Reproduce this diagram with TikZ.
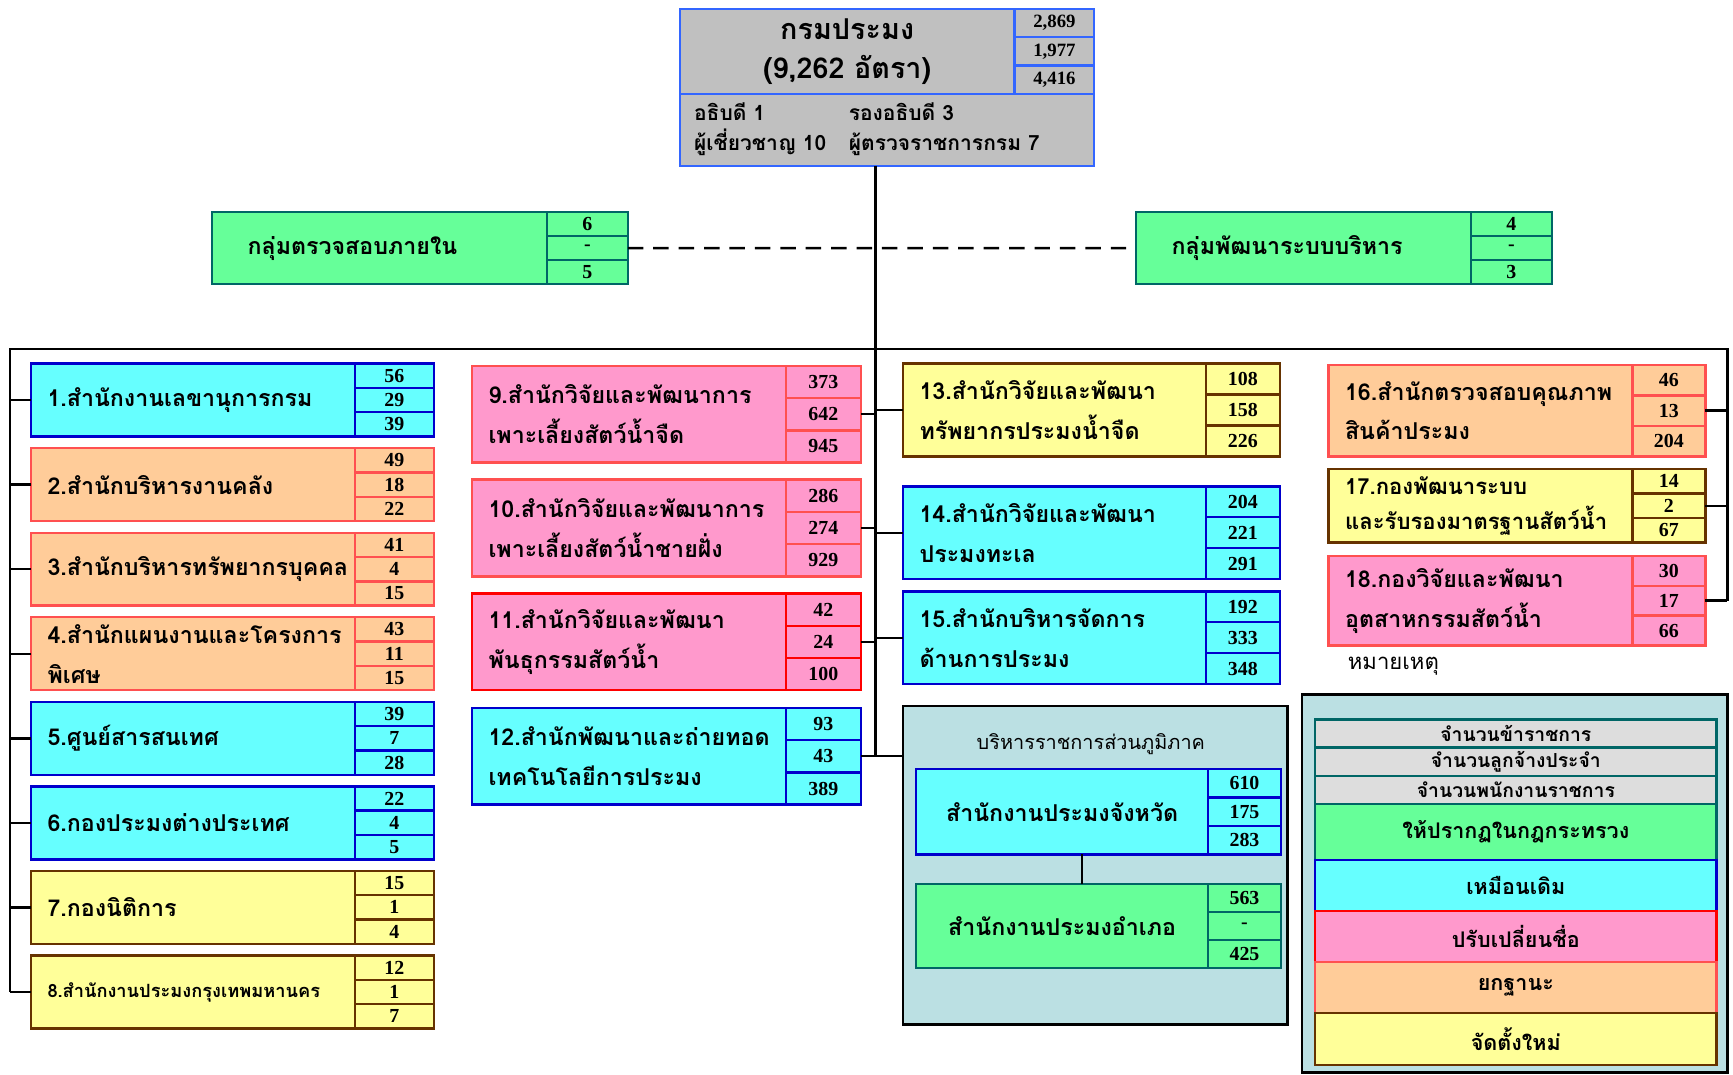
\documentclass[tikz,border=0pt]{standalone}
\usepackage{fontspec}
\setmainfont{Liberation Serif}
\newfontfamily\thaifont[Script=Thai]{Loma}
\usetikzlibrary{positioning}
\definecolor{cyanfill}{RGB}{102,255,255}
\definecolor{blueline}{RGB}{0,0,204}
\definecolor{orangefill}{RGB}{255,204,153}
\definecolor{redline}{RGB}{255,80,80}
\definecolor{pinkfill}{RGB}{255,153,204}
\definecolor{yellowfill}{RGB}{255,255,153}
\definecolor{brownline}{RGB}{102,51,0}
\definecolor{greenfill}{RGB}{102,255,153}
\definecolor{tealline}{RGB}{0,102,102}
\definecolor{grayfill}{RGB}{192,192,192}
\definecolor{topline}{RGB}{51,102,255}
\definecolor{regionfill}{RGB}{187,224,227}
\definecolor{keygray}{RGB}{221,221,221}

\begin{document}
\begin{tikzpicture}
		[x=1pt, y=-1pt,
		unit/.style={draw, line width=2.2pt, anchor=north west, outer sep=0pt, inner xsep=15pt, inner ysep=0pt, align=left, font=\thaifont\bfseries\fontsize{21}{36}\selectfont},
		cell/.style={draw, line width=2.2pt, outer sep=0pt, inner sep=0pt, font=\bfseries\fontsize{18}{18}\selectfont},
		lunit/.style={unit, text width=263pt, minimum height=66pt},
		lcell/.style={cell, minimum width=71.5pt, minimum height=22pt},
		munit/.style={unit, text width=254pt, minimum height=87.5pt},
		mcell/.style={cell, minimum width=68pt, minimum height=29.17pt},
		cunit/.style={unit, text width=244pt, minimum height=84pt},
		ccell/.style={cell, minimum width=67pt, minimum height=28pt},
		runit/.style={unit, text width=245pt},
		rcell/.style={cell, minimum width=66pt},
		key/.style={draw, line width=2.2pt, outer sep=0pt, minimum width=363pt, font=\thaifont\bfseries\fontsize{19.5}{19.5}\selectfont},
		blu/.style={fill=cyanfill, draw=blueline},
		org/.style={fill=orangefill, draw=redline},
		pnk/.style={fill=pinkfill, draw=redline},
		ylw/.style={fill=yellowfill, draw=brownline},
		grn/.style={fill=greenfill, draw=tealline},
		link/.style={line width=2.2pt, black}
		]

		\useasboundingbox (0,0) rectangle (1568,972);
		\coordinate (busL) at (9,316);
		\coordinate (busC) at (792,316);
		\coordinate (busR) at (1563,316);

		% department head
		\node [unit, fill=grayfill, draw=topline, align=center, text width=273pt, minimum height=77pt, font=\thaifont\bfseries\fontsize{26}{35}\selectfont] (DOF) at (615,8) {กรมประมง\\(9,262 อัตรา)};
			\node [cell, fill=grayfill, draw=topline, minimum width=72pt, minimum height=25.67pt, anchor=north west, font=\bfseries\fontsize{17}{17}\selectfont] (DOF_1) at (DOF.north east) {2,869};
			\node [cell, fill=grayfill, draw=topline, minimum width=72pt, minimum height=25.67pt, below=0pt of DOF_1, font=\bfseries\fontsize{17}{17}\selectfont] (DOF_2) {1,977};
			\node [cell, fill=grayfill, draw=topline, minimum width=72pt, minimum height=25.67pt, below=0pt of DOF_2, font=\bfseries\fontsize{17}{17}\selectfont] (DOF_3) {4,416};
		\node [unit, fill=grayfill, draw=topline, text width=349pt, inner xsep=13pt, minimum height=65pt, font=\thaifont\bfseries\fontsize{19}{25}\selectfont] (DOF0) at (DOF.south west)
			{\begin{tabular}{@{}p{140pt}@{}l@{}}อธิบดี 1 & รองอธิบดี 3\\ผู้เชี่ยวชาญ 10 & ผู้ตรวจราชการกรม 7\end{tabular}};

		% staff groups
		\node [unit, grn, text width=239pt, inner xsep=32pt, minimum height=65pt] (G1) at (192,192) {กลุ่มตรวจสอบภายใน};
			\node [cell, grn, minimum width=73pt, minimum height=21.67pt, anchor=north west] (G1_1) at (G1.north east) {6};
			\node [cell, grn, minimum width=73pt, minimum height=21.67pt, below=0pt of G1_1] (G1_2) {-};
			\node [cell, grn, minimum width=73pt, minimum height=21.67pt, below=0pt of G1_2] (G1_3) {5};
		\node [unit, grn, text width=239pt, inner xsep=32pt, minimum height=65pt] (G2) at (1028,192) {กลุ่มพัฒนาระบบบริหาร};
			\node [cell, grn, minimum width=73pt, minimum height=21.67pt, anchor=north west] (G2_1) at (G2.north east) {4};
			\node [cell, grn, minimum width=73pt, minimum height=21.67pt, below=0pt of G2_1] (G2_2) {-};
			\node [cell, grn, minimum width=73pt, minimum height=21.67pt, below=0pt of G2_2] (G2_3) {3};

		% left column
		\node [lunit, blu] (U1) at (28,329) {1.สำนักงานเลขานุการกรม} edge [link] (U1 -| busL);
			\node [lcell, blu, anchor=north west] (U1_1) at (U1.north east) {56};
			\node [lcell, blu, below=0pt of U1_1] (U1_2) {29};
			\node [lcell, blu, below=0pt of U1_2] (U1_3) {39};
		\node [lunit, org, below=10.5pt of U1] (U2) {2.สำนักบริหารงานคลัง} edge [link] (U2 -| busL);
			\node [lcell, org, anchor=north west] (U2_1) at (U2.north east) {49};
			\node [lcell, org, below=0pt of U2_1] (U2_2) {18};
			\node [lcell, org, below=0pt of U2_2] (U2_3) {22};
		\node [lunit, org, below=10.5pt of U2] (U3) {3.สำนักบริหารทรัพยากรบุคคล} edge [link] (U3 -| busL);
			\node [lcell, org, anchor=north west] (U3_1) at (U3.north east) {41};
			\node [lcell, org, below=0pt of U3_1] (U3_2) {4};
			\node [lcell, org, below=0pt of U3_2] (U3_3) {15};
		\node [lunit, org, below=10.5pt of U3] (U4) {4.สำนักแผนงานและโครงการ\\พิเศษ} edge [link] (U4 -| busL);
			\node [lcell, org, anchor=north west] (U4_1) at (U4.north east) {43};
			\node [lcell, org, below=0pt of U4_1] (U4_2) {11};
			\node [lcell, org, below=0pt of U4_2] (U4_3) {15};
		\node [lunit, blu, below=10.5pt of U4] (U5) {5.ศูนย์สารสนเทศ} edge [link] (U5 -| busL);
			\node [lcell, blu, anchor=north west] (U5_1) at (U5.north east) {39};
			\node [lcell, blu, below=0pt of U5_1] (U5_2) {7};
			\node [lcell, blu, below=0pt of U5_2] (U5_3) {28};
		\node [lunit, blu, below=10.5pt of U5] (U6) {6.กองประมงต่างประเทศ} edge [link] (U6 -| busL);
			\node [lcell, blu, anchor=north west] (U6_1) at (U6.north east) {22};
			\node [lcell, blu, below=0pt of U6_1] (U6_2) {4};
			\node [lcell, blu, below=0pt of U6_2] (U6_3) {5};
		\node [lunit, ylw, below=10.5pt of U6] (U7) {7.กองนิติการ} edge [link] (U7 -| busL);
			\node [lcell, ylw, anchor=north west] (U7_1) at (U7.north east) {15};
			\node [lcell, ylw, below=0pt of U7_1] (U7_2) {1};
			\node [lcell, ylw, below=0pt of U7_2] (U7_3) {4};
		\node [lunit, ylw, below=10.5pt of U7, font=\thaifont\bfseries\fontsize{16.5}{20}\selectfont] (U8) {8.สำนักงานประมงกรุงเทพมหานคร} edge [link] (U8 -| busL);
			\node [lcell, ylw, anchor=north west] (U8_1) at (U8.north east) {12};
			\node [lcell, ylw, below=0pt of U8_1] (U8_2) {1};
			\node [lcell, ylw, below=0pt of U8_2] (U8_3) {7};

		% middle column
		\node [munit, pnk] (U9) at (427,331) {9.สำนักวิจัยและพัฒนาการ\\เพาะเลี้ยงสัตว์น้ำจืด};
			\node [mcell, pnk, anchor=north west] (U9_1) at (U9.north east) {373};
			\node [mcell, pnk, below=0pt of U9_1] (U9_2) {642} edge [link] (U9_2 -| busC);
			\node [mcell, pnk, below=0pt of U9_2] (U9_3) {945};
		\node [munit, pnk, below=15.5pt of U9] (U10) {10.สำนักวิจัยและพัฒนาการ\\เพาะเลี้ยงสัตว์น้ำชายฝั่ง};
			\node [mcell, pnk, anchor=north west] (U10_1) at (U10.north east) {286};
			\node [mcell, pnk, below=0pt of U10_1] (U10_2) {274} edge [link] (U10_2 -| busC);
			\node [mcell, pnk, below=0pt of U10_2] (U10_3) {929};
		\node [munit, pnk, draw=red, below=15.5pt of U10] (U11) {11.สำนักวิจัยและพัฒนา\\พันธุกรรมสัตว์น้ำ};
			\node [mcell, pnk, draw=red, anchor=north west] (U11_1) at (U11.north east) {42};
			\node [mcell, pnk, draw=red, below=0pt of U11_1] (U11_2) {24} edge [link] (U11_2 -| busC);
			\node [mcell, pnk, draw=red, below=0pt of U11_2] (U11_3) {100};
		\node [munit, blu, below=16pt of U11] (U12) {12.สำนักพัฒนาและถ่ายทอด\\เทคโนโลยีการประมง};
			\node [mcell, blu, anchor=north west] (U12_1) at (U12.north east) {93};
			\node [mcell, blu, below=0pt of U12_1] (U12_2) {43};
			\node [mcell, blu, below=0pt of U12_2] (U12_3) {389};

		% third column
		\node [cunit, ylw] (U13) at (817,329) {13.สำนักวิจัยและพัฒนา\\ทรัพยากรประมงน้ำจืด} edge [link] (U13 -| busC);
			\node [ccell, ylw, anchor=north west] (U13_1) at (U13.north east) {108};
			\node [ccell, ylw, below=0pt of U13_1] (U13_2) {158};
			\node [ccell, ylw, below=0pt of U13_2] (U13_3) {226};
		\node [cunit, blu, below=27pt of U13] (U14) {14.สำนักวิจัยและพัฒนา\\ประมงทะเล} edge [link] (U14 -| busC);
			\node [ccell, blu, anchor=north west] (U14_1) at (U14.north east) {204};
			\node [ccell, blu, below=0pt of U14_1] (U14_2) {221};
			\node [ccell, blu, below=0pt of U14_2] (U14_3) {291};
		\node [cunit, blu, below=11pt of U14] (U15) {15.สำนักบริหารจัดการ\\ด้านการประมง} edge [link] (U15 -| busC);
			\node [ccell, blu, anchor=north west] (U15_1) at (U15.north east) {192};
			\node [ccell, blu, below=0pt of U15_1] (U15_2) {333};
			\node [ccell, blu, below=0pt of U15_2] (U15_3) {348};

		% regional offices
		\node [draw, line width=2.2pt, fill=regionfill, anchor=north west, outer sep=0pt, minimum width=348pt, minimum height=288pt] (R) at (817,639) {};
		\node [font=\thaifont\fontsize{18}{18}\selectfont] (RT) at (987,673) {บริหารราชการส่วนภูมิภาค};
		\node [unit, blu, align=center, text width=234pt, minimum height=77pt] (P1) at (829,696) {สำนักงานประมงจังหวัด};
			\node [cell, blu, minimum width=66pt, minimum height=25.67pt, anchor=north west] (P1_1) at (P1.north east) {610};
			\node [cell, blu, minimum width=66pt, minimum height=25.67pt, below=0pt of P1_1] (P1_2) {175};
			\node [cell, blu, minimum width=66pt, minimum height=25.67pt, below=0pt of P1_2] (P1_3) {283};
		\node [unit, grn, align=center, text width=234pt, minimum height=76pt] (P2) at (829,800) {สำนักงานประมงอำเภอ};
			\node [cell, grn, minimum width=66pt, minimum height=25.33pt, anchor=north west] (P2_1) at (P2.north east) {563};
			\node [cell, grn, minimum width=66pt, minimum height=25.33pt, below=0pt of P2_1] (P2_2) {-};
			\node [cell, grn, minimum width=66pt, minimum height=25.33pt, below=0pt of P2_2] (P2_3) {425};
		\draw [link] ([xshift=18pt]P1.south) -- ([xshift=18pt]P2.north);

		% right column
		\node [runit, org, minimum height=83pt] (U16) at (1202,330) {16.สำนักตรวจสอบคุณภาพ\\สินค้าประมง};
			\node [rcell, org, minimum height=27.67pt, anchor=north west] (U16_1) at (U16.north east) {46};
			\node [rcell, org, minimum height=27.67pt, below=0pt of U16_1] (U16_2) {13} edge [link] (U16_2 -| busR);
			\node [rcell, org, minimum height=27.67pt, below=0pt of U16_2] (U16_3) {204};
		\node [runit, ylw, minimum height=66.5pt, font=\thaifont\bfseries\fontsize{20}{32}\selectfont, below=11.5pt of U16] (U17) {17.กองพัฒนาระบบ\\และรับรองมาตรฐานสัตว์น้ำ};
			\node [rcell, ylw, minimum height=22.17pt, anchor=north west] (U17_1) at (U17.north east) {14};
			\node [rcell, ylw, minimum height=22.17pt, below=0pt of U17_1] (U17_2) {2} edge [link] (U17_2 -| busR);
			\node [rcell, ylw, minimum height=22.17pt, below=0pt of U17_2] (U17_3) {67};
		\node [runit, pnk, minimum height=81pt, below=12pt of U17] (U18) {18.กองวิจัยและพัฒนา\\อุตสาหกรรมสัตว์น้ำ};
			\node [rcell, pnk, minimum height=27pt, anchor=north west] (U18_1) at (U18.north east) {30};
			\node [rcell, pnk, minimum height=27pt, below=0pt of U18_1] (U18_2) {17} edge [link] (U18_2 -| busR);
			\node [rcell, pnk, minimum height=27pt, below=0pt of U18_2] (U18_3) {66};

		% connectors
		\draw [link] (busL |- U8) -- (busL) -- (busR) -- (busR |- U18_2);
		\draw [link] (DOF0.south -| busC) -- (busC |- U12_2);
		\draw [link] (U12_2.east) -- (U12_2.east -| R.west);
		\draw [link, dash pattern=on 14pt off 9pt] (G1_2.east) -- (G2.west);

		% legend
		\node [font=\thaifont\fontsize{20}{20}\selectfont, anchor=west] (N) at (1216,603) {หมายเหตุ};
		\node [draw, line width=2.6pt, fill=regionfill, anchor=north west, outer sep=0pt, minimum width=385pt, minimum height=342pt] (K) at (1178,628) {};
		\node [key, fill=keygray, draw=tealline, minimum height=25.5pt, anchor=north west, font=\thaifont\bfseries\fontsize{17.5}{17.5}\selectfont] (K1) at (1190,651) {จำนวนข้าราชการ};
		\node [key, fill=keygray, draw=tealline, minimum height=25.5pt, below=0pt of K1, font=\thaifont\bfseries\fontsize{17.5}{17.5}\selectfont] (K2) {จำนวนลูกจ้างประจำ};
		\node [key, fill=keygray, draw=tealline, minimum height=25.5pt, below=0pt of K2, font=\thaifont\bfseries\fontsize{17.5}{17.5}\selectfont] (K3) {จำนวนพนักงานราชการ};
		\node [key, grn, minimum height=50.5pt, below=0pt of K3] (K4) {ให้ปรากฏในกฎกระทรวง};
		\node [key, blu, minimum height=46pt, below=0pt of K4] (K5) {เหมือนเดิม};
		\node [key, pnk, draw=red, minimum height=46.5pt, below=0pt of K5] (K6) {ปรับเปลี่ยนชื่อ};
		\node [key, org, minimum height=46pt, below=0pt of K6] (K7) {ยกฐานะ};
		\node [key, ylw, minimum height=47pt, below=0pt of K7] (K8) {จัดตั้งใหม่};

	\end{tikzpicture}
\end{document}
